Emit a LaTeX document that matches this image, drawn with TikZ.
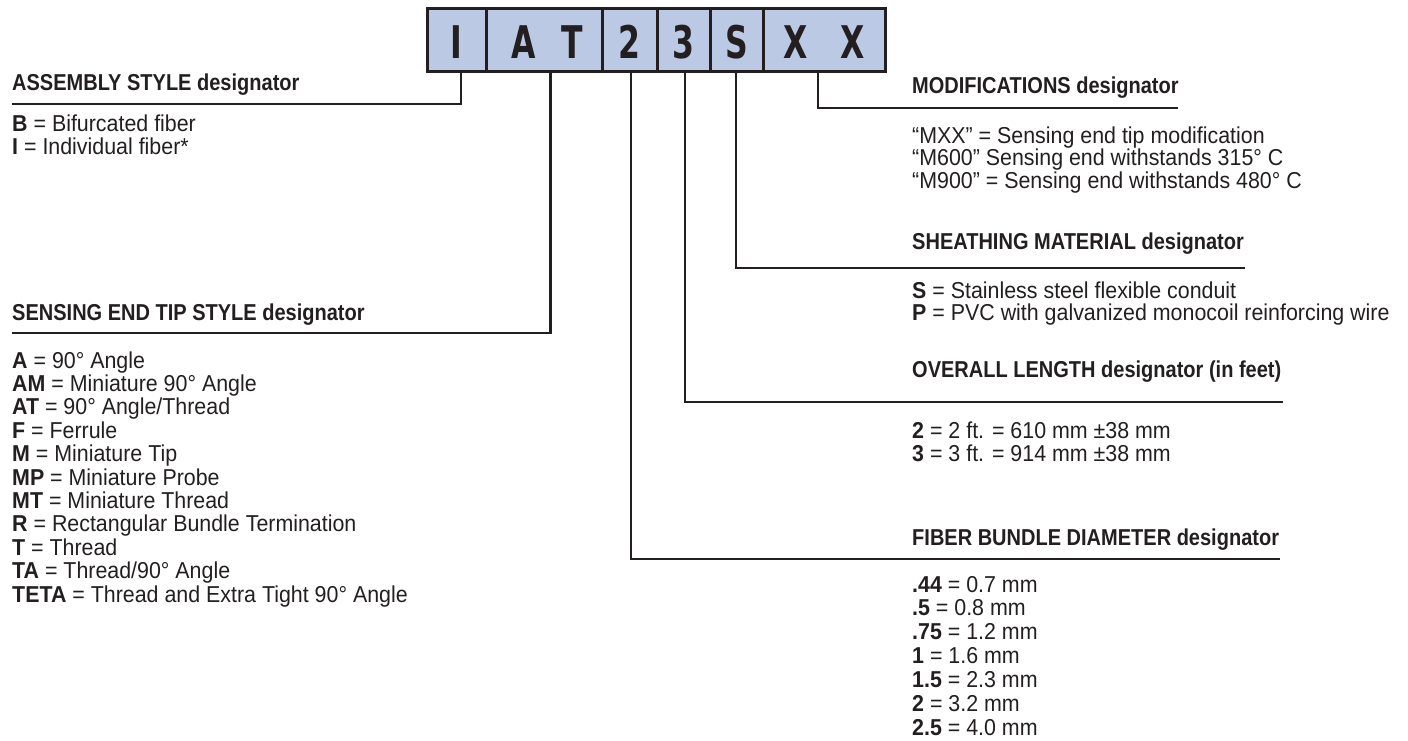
\documentclass[tikz,border=0pt]{standalone}
\usepackage{fontspec}
\setmainfont{Liberation Sans}[FakeStretch=0.93]
\newfontfamily\hdfont{Liberation Sans Bold}[FakeStretch=0.87]
\newfontfamily\boxfont{DejaVu Sans Bold}[FakeStretch=0.7]
\definecolor{ink}{HTML}{231F20}
\definecolor{cellblue}{RGB}{188,201,228}
\begin{document}
\begin{tikzpicture}[x=1pt,y=-1pt,
  hd/.style={anchor=base west, inner sep=0pt, font=\hdfont\fontsize{23}{24}\selectfont, text=ink},
  body/.style={anchor=base west, inner sep=0pt, font=\fontsize{23}{24}\selectfont, text=ink},
  cell/.style={draw=ink, line width=3pt, fill=cellblue, minimum height=63pt, inner sep=0pt,
    text height=37pt, text depth=0pt, font=\boxfont\fontsize{45}{45}\selectfont, text=ink},
  conn/.style={draw=ink, line width=2.2pt}]
\useasboundingbox (0,0) rectangle (1408,740);
% code boxes
\node[cell, minimum width=59pt]  (cI)  at (456.5,39.5) {I};
\node[cell, minimum width=116pt] (cAT) at (544,39.5)   {\hspace*{7pt}A\hspace{26pt}T};
\node[cell, minimum width=55pt]  (c2)  at (629.5,39.5) {2};
\node[cell, minimum width=53pt]  (c3)  at (683.5,39.5) {3};
\node[cell, minimum width=53pt]  (cS)  at (736.5,39.5) {S};
\node[cell, minimum width=122pt] (cX)  at (824,39.5)   {X\hspace{33pt}X};
% headings
\node[hd] (hA)  at (12,90)   {ASSEMBLY STYLE designator};
\node[hd] (hT)  at (12,320)  {SENSING END TIP STYLE designator};
\node[hd] (hM)  at (912,93)  {MODIFICATIONS designator};
\node[hd] (hSh) at (912,249) {SHEATHING MATERIAL designator};
\node[hd] (hO)  at (912,377) {OVERALL LENGTH designator (in feet)};
\node[hd] (hF)  at (912,545) {FIBER BUNDLE DIAMETER designator};
% underline ends
\coordinate (uA)  at (12,104);
\coordinate (uT)  at (12,333);
\coordinate (uM)  at (1178,108);
\coordinate (uSh) at (1245,268);
\coordinate (uO)  at (1283,402);
\coordinate (uF)  at (1280,559);
% connectors
\draw[conn] ([xshift=4.5pt]cI.south) |- (uA);
\draw[conn] ([xshift=6.5pt]cAT.south) |- (uT);
\draw[conn] ([xshift=1.5pt]c2.south) |- (uF);
\draw[conn] ([xshift=1.5pt]c3.south) |- (uO);
\draw[conn] ([xshift=-0.5pt]cS.south) |- (uSh);
\draw[conn] ([xshift=-6pt]cX.south) |- (uM);
% assembly style
\node[body] (a0) at (12,131) {\textbf{B} = Bifurcated fiber};
\node[body] (a1) at (12,154) {\textbf{I} = Individual fiber*};
% sensing end tip
\foreach \t [count=\i from 0] in {{\textbf{A} = 90° Angle},{\textbf{AM} = Miniature 90° Angle},
  {\textbf{AT} = 90° Angle/Thread},{\textbf{F} = Ferrule},{\textbf{M} = Miniature Tip},
  {\textbf{MP} = Miniature Probe},{\textbf{MT} = Miniature Thread},
  {\textbf{R} = Rectangular Bundle Termination},{\textbf{T} = Thread},
  {\textbf{TA} = Thread/90° Angle},{\textbf{TETA} = Thread and Extra Tight 90° Angle}}
  \node[body] (t\i) at (12,368+23.4*\i) {\t};
% modifications
\node[body] (m0) at (912,143)   {“MXX” = Sensing end tip modification};
\node[body] (m1) at (912,165.5) {“M600” Sensing end withstands 315° C};
\node[body] (m2) at (912,188)   {“M900” = Sensing end withstands 480° C};
% sheathing
\node[body] (s0) at (912,298)   {\textbf{S} = Stainless steel flexible conduit};
\node[body] (s1) at (912,320.5) {\textbf{P} = PVC with galvanized monocoil reinforcing wire};
% overall length
\node[body] (o0) at (912,438) {\textbf{2} = 2 ft. = 610 mm ±38 mm};
\node[body] (o1) at (912,461) {\textbf{3} = 3 ft. = 914 mm ±38 mm};
% fiber bundle diameter
\foreach \t [count=\i from 0] in {{\textbf{.44} = 0.7 mm},{\textbf{.5} = 0.8 mm},
  {\textbf{.75} = 1.2 mm},{\textbf{1} = 1.6 mm},{\textbf{1.5} = 2.3 mm},
  {\textbf{2} = 3.2 mm},{\textbf{2.5} = 4.0 mm}}
  \node[body] (f\i) at (912,592+23.9*\i) {\t};
\end{tikzpicture}
\end{document}
